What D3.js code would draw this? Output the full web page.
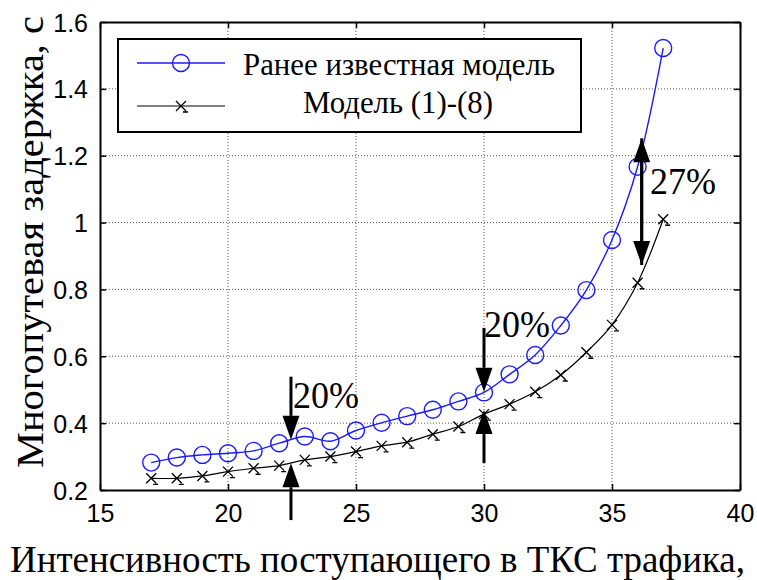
<!DOCTYPE html>
<html>
<head>
<meta charset="utf-8">
<script src="https://cdn.jsdelivr.net/npm/d3@7"></script>
<style>
  body { margin: 0; background: #fff; }
  svg { display: block; }
  .serif { font-family: "Liberation Serif", "Times New Roman", "Nimbus Roman", "DejaVu Serif", serif; }
</style>
</head>
<body>
<svg id="chart"></svg>
<script>
// traffic intensity
const xs = [17,18,19,20,21,22,23,24,25,26,27,28,29,30,31,32,33,34,35,36,37];
// previously known model
const oldModel = [0.282,0.297,0.305,0.31,0.317,0.34,0.36,0.346,0.378,0.401,0.421,0.44,0.465,0.492,0.546,0.604,0.692,0.798,0.948,1.167,1.522];
// model (1)-(8)
const newModel = [0.235,0.235,0.242,0.255,0.265,0.273,0.29,0.30,0.315,0.332,0.343,0.367,0.39,0.427,0.457,0.494,0.544,0.612,0.694,0.82,1.01];
const xTicks = [15,20,25,30,35,40];
const yTicks = [0.2,0.4,0.6,0.8,1,1.2,1.4,1.6];
const seriesNames = ["Ранее известная модель", "Модель (1)-(8)"];
// arrows: [x, from, to]
const arrows = [
  [22.46, 0.539, 0.35], [22.46, 0.11, 0.28],
  [30, 0.685, 0.494], [30, 0.281, 0.439],
  [36.16, 0.873, 1.252], [36.16, 1.252, 0.873]
];
const notes = [
  {x: 22.54, y: 0.445, t: "20%"},
  {x: 30.0, y: 0.658, t: "20%"},
  {x: 36.48, y: 1.086, t: "27%"}
];

const width = 757, height = 580;
const marginLeft = 100, marginRight = 17, marginTop = 22, marginBottom = 90;

const svg = d3.select("#chart").attr("width", width).attr("height", height);

const x = d3.scaleLinear().domain([15, 40]).range([marginLeft, width - marginRight]);
const y = d3.scaleLinear().domain([0.2, 1.6]).range([height - marginBottom, marginTop]);

// grid
svg.append("g")
  .selectAll("line").data(xTicks.slice(1, -1)).join("line")
  .attr("x1", d => x(d)).attr("x2", d => x(d))
  .attr("y1", marginTop).attr("y2", height - marginBottom)
  .attr("stroke", "#555").attr("stroke-width", 1).attr("stroke-dasharray", "1,2");
svg.append("g")
  .selectAll("line").data(yTicks.slice(1, -1)).join("line")
  .attr("y1", d => y(d)).attr("y2", d => y(d))
  .attr("x1", marginLeft).attr("x2", width - marginRight)
  .attr("stroke", "#555").attr("stroke-width", 1).attr("stroke-dasharray", "1,2");

// axes
const xAxis = svg.append("g")
  .attr("transform", `translate(0,${height - marginBottom})`)
  .call(d3.axisBottom(x).tickValues(xTicks).tickSizeInner(-6).tickSizeOuter(0).tickPadding(14));
const yAxis = svg.append("g")
  .attr("transform", `translate(${marginLeft},0)`)
  .call(d3.axisLeft(y).tickValues(yTicks).tickFormat(d3.format("~g")).tickSizeInner(-6).tickSizeOuter(0).tickPadding(12));
svg.append("g")
  .attr("transform", `translate(0,${marginTop})`)
  .call(d3.axisTop(x).tickValues(xTicks).tickSizeInner(-6).tickSizeOuter(0).tickFormat(""));
svg.append("g")
  .attr("transform", `translate(${width - marginRight},0)`)
  .call(d3.axisRight(y).tickValues(yTicks).tickSizeInner(-6).tickSizeOuter(0).tickFormat(""));
svg.selectAll(".domain").attr("stroke", "#000").attr("stroke-width", 2);
svg.selectAll(".tick line").attr("stroke", "#000").attr("stroke-width", 1.5);
svg.selectAll(".tick text")
  .attr("font-family", "'Liberation Sans', Arial, sans-serif")
  .attr("font-size", 25).attr("fill", "#000");
yAxis.selectAll(".tick text").attr("dy", "0.36em");

// lines
const line = d3.line().curve(d3.curveCatmullRom).x(d => x(d[0])).y(d => y(d[1]));
const oldPts = xs.map((v, i) => [v, oldModel[i]]);
const newPts = xs.map((v, i) => [v, newModel[i]]);

svg.append("path").datum(oldPts)
  .attr("fill", "none").attr("stroke", "#1a1aff").attr("stroke-width", 1.4)
  .attr("d", line);
svg.append("path").datum(newPts)
  .attr("fill", "none").attr("stroke", "#000").attr("stroke-width", 1.2)
  .attr("d", line);

svg.append("g").selectAll("circle").data(oldPts).join("circle")
  .attr("cx", d => x(d[0])).attr("cy", d => y(d[1])).attr("r", 8.5)
  .attr("fill", "none").attr("stroke", "#1a1aff").attr("stroke-width", 1.4);

function cross(g, cx, cy) {
  g.append("path")
    .attr("d", `M${cx-5},${cy-5}L${cx+5},${cy+5}M${cx-5},${cy+5}L${cx+5},${cy-5}M${cx+2},${cy+6}L${cx+7},${cy+6}`)
    .attr("stroke", "#000").attr("stroke-width", 1.3).attr("fill", "none");
}
const crosses = svg.append("g");
newPts.forEach(d => cross(crosses, x(d[0]), y(d[1])));

// arrows
const arrowG = svg.append("g");
arrows.forEach(([ax, from, to]) => {
  const px = x(ax), y0 = y(from), y1 = y(to);
  const dir = y1 > y0 ? 1 : -1;
  const headLen = 24, headW = 8.5;
  arrowG.append("line")
    .attr("x1", px).attr("x2", px).attr("y1", y0).attr("y2", y1 - dir * headLen)
    .attr("stroke", "#000").attr("stroke-width", 3);
  arrowG.append("path")
    .attr("d", `M${px},${y1}L${px - headW},${y1 - dir * headLen}L${px + headW},${y1 - dir * headLen}Z`)
    .attr("fill", "#000");
});

svg.append("g").selectAll("text").data(notes).join("text")
  .attr("class", "serif")
  .attr("x", d => x(d.x)).attr("y", d => y(d.y))
  .attr("font-size", 37).attr("fill", "#000")
  .attr("textLength", 66).attr("lengthAdjust", "spacingAndGlyphs")
  .text(d => d.t);

// legend
const legend = svg.append("g");
legend.append("rect")
  .attr("x", 118).attr("y", 39).attr("width", 463).attr("height", 93)
  .attr("fill", "#fff").attr("stroke", "#000").attr("stroke-width", 2);
legend.append("line").attr("x1", 137).attr("x2", 225).attr("y1", 63).attr("y2", 63)
  .attr("stroke", "#1a1aff").attr("stroke-width", 1.4);
legend.append("circle").attr("cx", 181).attr("cy", 63).attr("r", 8.5)
  .attr("fill", "none").attr("stroke", "#1a1aff").attr("stroke-width", 1.4);
legend.append("line").attr("x1", 137).attr("x2", 225).attr("y1", 106).attr("y2", 106)
  .attr("stroke", "#000").attr("stroke-width", 1.2);
cross(legend, 181, 106);
legend.selectAll("text").data(seriesNames).join("text")
  .attr("class", "serif")
  .attr("x", (d, i) => i === 0 ? 243 : 303).attr("y", (d, i) => i === 0 ? 75 : 113)
  .attr("font-size", 31).attr("fill", "#000")
  .attr("textLength", (d, i) => i === 0 ? 312 : 190).attr("lengthAdjust", "spacingAndGlyphs")
  .text(d => d);

// axis titles
svg.append("text")
  .attr("class", "serif")
  .attr("transform", `translate(43,468) rotate(-90)`)
  .attr("font-size", 38).attr("fill", "#000")
  .attr("textLength", 452).attr("lengthAdjust", "spacingAndGlyphs")
  .text("Многопутевая задержка, с");
svg.append("text")
  .attr("class", "serif")
  .attr("x", 10).attr("y", 572)
  .attr("font-size", 37).attr("fill", "#000")
  .attr("textLength", 735).attr("lengthAdjust", "spacingAndGlyphs")
  .text("Интенсивность поступающего в ТКС трафика,");
</script>
</body>
</html>
